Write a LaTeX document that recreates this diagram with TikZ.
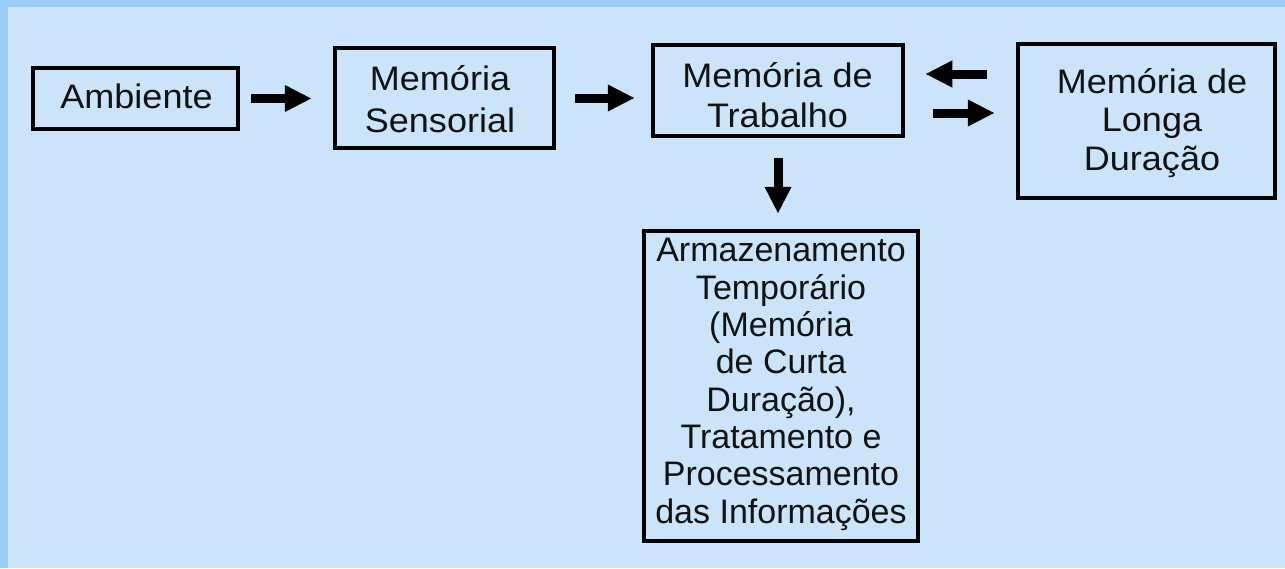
\documentclass[tikz,border=0pt]{standalone}
\usepackage{fontspec}
\setmainfont{Liberation Sans}
\newfontfamily\widefnt[FakeStretch=1.06]{Liberation Sans}
\usetikzlibrary{arrows.meta}
\definecolor{bordblue}{HTML}{99CCF5}
\definecolor{bgblue}{HTML}{CCE4FA}
\tikzset{
  box/.style={draw=black, line width=4.5pt, outer sep=2.25pt, inner sep=0pt},
  lbl/.style={align=center, inner sep=0pt, anchor=base, text=black!93},
  wide/.style={lbl, font=\widefnt\fontsize{34}{#1}\selectfont},
  wide/.default=42,
  bigarrow/.style={line width=9pt, -{Triangle[length=27pt,width=25pt]}}
}
\begin{document}
\begin{tikzpicture}[x=1pt,y=-1pt]
\useasboundingbox (0,0) rectangle (1285,568);
\fill[bordblue] (0,0) rectangle (1285,568);
\fill[bgblue] (8,7) rectangle (1285,568);
% frames
\node[box, minimum width=205pt, minimum height=61pt] (amb) at (135.5,98.5) {};
\node[box, minimum width=219pt, minimum height=100pt] (sens) at (444.5,98) {};
\node[box, minimum width=250pt, minimum height=91pt] (trab) at (778,90.5) {};
\node[box, minimum width=257pt, minimum height=154pt] (longa) at (1146.5,121) {};
\node[box, minimum width=274pt, minimum height=310pt] (arm) at (781,386) {};
% texts (anchored at the baseline of the last line)
\node[wide] (ambT) at (136.5,108) {Ambiente};
\node[wide=42.5] (sensT) at (440,132.5) {Memória\\Sensorial};
\node[wide=40] (trabT) at (777.5,127) {Memória de\\Trabalho};
\node[wide=38.5] (longaT) at (1152,170.3) {Memória de\\Longa\\Duração};
\node[lbl, font=\fontsize{34}{37.3}\selectfont] (armT) at (781,523) {Armazenamento\\Temporário\\(Memória\\de Curta\\Duração),\\Tratamento e\\Processamento\\das Informações};
% arrows
\coordinate (up) at (0,74);
\coordinate (lo) at (0,113);
\draw[bigarrow, shorten <=11pt, shorten >=21pt] (amb.east) -- (amb.east -| sens.west);
\draw[bigarrow, shorten <=19pt, shorten >=16pt] (sens.east) -- (sens.east -| trab.west);
\draw[bigarrow, shorten <=29pt, shorten >=20pt] (longa.west |- up) -- (trab.east |- up);
\draw[bigarrow, shorten <=28pt, shorten >=21pt] (trab.east |- lo) -- (longa.west |- lo);
\draw[bigarrow, shorten <=20pt, shorten >=15pt] (trab.south) -- (trab.south |- arm.north);
\end{tikzpicture}
\end{document}
